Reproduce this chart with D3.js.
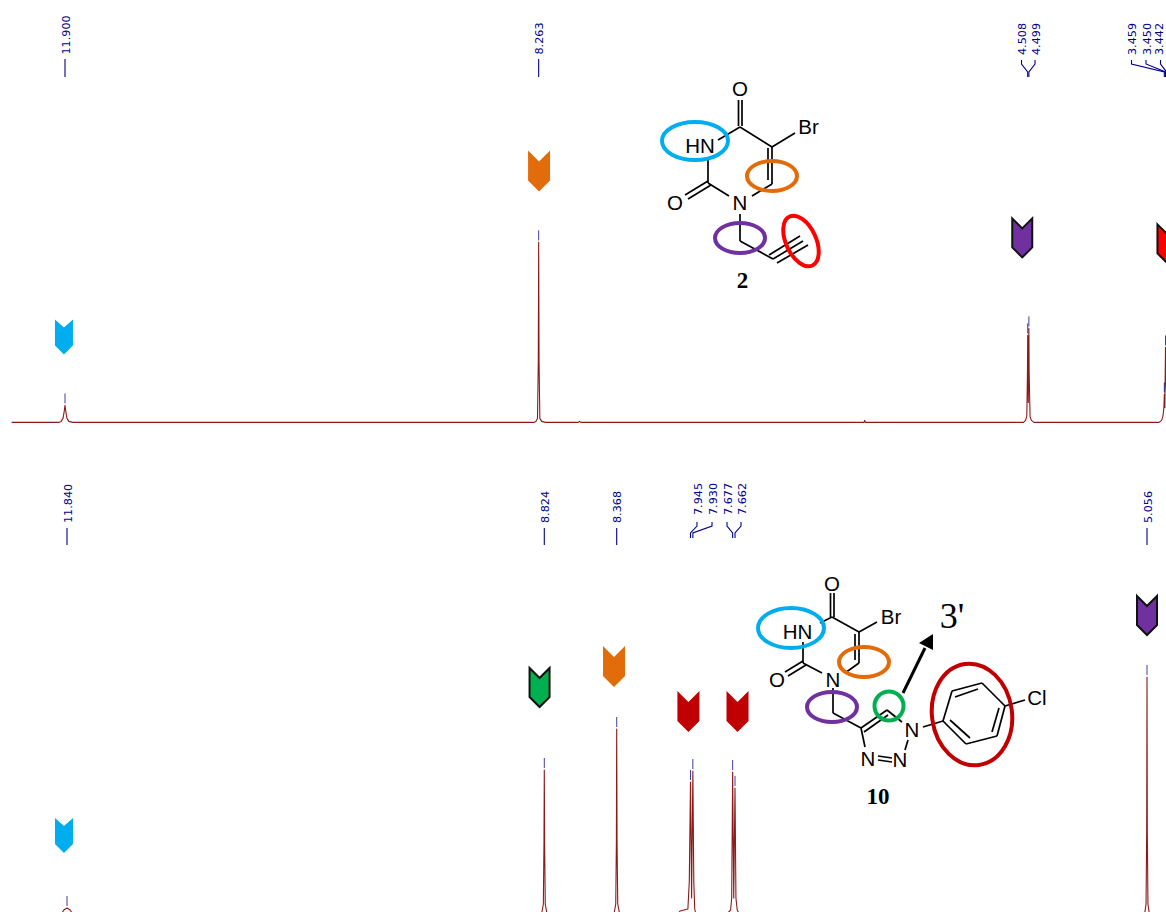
<!DOCTYPE html>
<html>
<head>
<meta charset="utf-8">
<script src="https://cdn.jsdelivr.net/npm/d3@7"></script>
<style>
    html, body { margin: 0; padding: 0; background: #fff; }
    svg { display: block; }
</style>
</head>
<body>
<div id="my_dataviz"></div>
<script>
// peak labels (ppm) of the two spectra
var topLabels = [11.900, 8.263, 4.508, 4.499, 3.459, 3.450, 3.442];
var bottomLabels = [11.840, 8.824, 8.368, 7.945, 7.930, 7.677, 7.662, 5.056];

// spectrum of compound 2
var topPpm = [12.31, 11.95, 11.93, 11.915, 11.905, 11.90, 11.895, 11.885, 11.87, 11.84,
    8.30, 8.285, 8.272, 8.266, 8.263, 8.26, 8.254, 8.24, 8.21,
    7.96, 7.95, 7.94, 5.765, 5.76, 5.755,
    4.54, 4.525, 4.515, 4.510, 4.508, 4.5035, 4.499, 4.497, 4.49, 4.48, 4.46,
    3.50, 3.48, 3.47, 3.462, 3.459, 3.455, 3.450, 3.445, 3.442];
var topIntensity = [0, 0, 1, 4, 12, 17, 12, 4, 1, 0,
    0, 1, 4, 60, 180, 60, 4, 1, 0,
    0, 1, 0, 0, 2, 0,
    0, 2, 6, 50, 87, 20, 94, 50, 6, 2, 0,
    0, 2, 6, 15, 28, 15, 75, 40, 30];

// spectrum of compound 10, its baseline sits just below the page
var bottomPpm = [11.88, 11.86, 11.845, 11.84, 11.835, 11.82, 11.80,
    8.842, 8.83, 8.826, 8.824, 8.822, 8.818, 8.806,
    8.386, 8.374, 8.37, 8.368, 8.366, 8.362, 8.35,
    8.02, 8.005, 7.96, 7.952, 7.945, 7.938, 7.93, 7.924, 7.918, 7.91,
    7.72, 7.69, 7.683, 7.677, 7.67, 7.662, 7.656, 7.648, 7.63,
    5.072, 5.062, 5.058, 5.056, 5.054, 5.05, 5.04];
var bottomIntensity = [0, 5, 6.5, 7, 6.5, 5, 0,
    0, 11, 73, 145, 73, 11, 0,
    0, 11, 73, 186, 73, 11, 0,
    0, 4, 6, 33, 133, 17, 144, 33, 6, 0,
    0, 5, 17, 143, 17, 127, 17, 5, 0,
    0, 11, 83, 238, 83, 11, 0];

// integral markers
var topMarkerPpm = [11.908, 8.26, 4.55, 3.435];
var topMarkerLevel = [103, 272, 205, 199];
var topMarkerProton = ["NH", "C6H", "CH2", "CCH"];
var bottomMarkerPpm = [11.859, 8.854, 8.385, 7.957, 7.646, 5.056];
var bottomMarkerLevel = [97, 248, 269, 224, 224, 320];
var bottomMarkerProton = ["NH", "H3", "C6H", "Ar", "Ar", "CH2"];

var protonColor = {NH: "#00aeef", C6H: "#e36c0a", CH2: "#7030a0", CCH: "#ff0000", H3: "#00b050", Ar: "#c00000"};
var protonOutlined = {CH2: true, CCH: true, H3: true};

var width = 1166, height = 912;

var svg = d3.select("#my_dataviz")
    .append("svg")
    .attr("width", width)
    .attr("height", height)
    .attr("viewBox", "0 0 " + width + " " + height);

var fontLabel = "'DejaVu Sans', sans-serif";
var fontChem = "'Liberation Sans', Arial, sans-serif";
var fontSerif = "'Liberation Serif', 'Times New Roman', serif";
var blue = "#00008b";
var red = "#8b1a1a";

// spectrum scales, the pasted bottom panel is not quite linear in ppm
var xTop = d3.scaleLinear().domain([11.900, 3.450]).range([65, 1165.5]);
var yTop = d3.scaleLinear().domain([0, 180]).range([422.4, 242.4]);
var xBottom = d3.scaleLinear()
    .domain([11.840, 8.824, 8.368, 7.945, 7.662, 5.056])
    .range([67, 544.3, 616.7, 690.5, 735, 1147]);
var yBottom = d3.scaleLinear().domain([0, 240]).range([915, 675]);

// where the label fan ends up, x of each label when it is not above its peak
var topFan = {"4.508": 1021.5, "4.499": 1035, "3.459": 1131.5, "3.45": 1146, "3.442": 1160.5};
var bottomFan = {"7.945": 697, "7.93": 712, "7.677": 727, "7.662": 741};

function drawSpectrum(ppm, intensity, labels, fan, x, y, opt) {
    var g = svg.append("g");
    var line = d3.line()
        .x(function(d) { return x(d); })
        .y(function(d, i) { return y(intensity[i]); });

    g.append("path")
        .attr("d", line(ppm))
        .attr("fill", "none")
        .attr("stroke", red)
        .attr("stroke-width", 1.1)
        .attr("stroke-linejoin", "round");

    labels.forEach(function(v) {
        var px = x(v);
        var top = y(intensity[ppm.indexOf(v)]);
        var lx = fan[String(v)];
        var fanned = lx !== undefined;
        if (!fanned) lx = px;

        // short tick sitting on the peak
        g.append("line")
            .attr("x1", px).attr("x2", px)
            .attr("y1", top - 2).attr("y2", top - 12)
            .attr("stroke", blue).attr("stroke-width", 1).attr("opacity", 0.75);

        // keep the last label inside the page
        var textX = Math.min(lx + 4.6, width - 2.8);
        var textEnd = fanned ? opt.fanTextEnd : opt.textEnd;
        g.append("text")
            .attr("transform", "translate(" + textX + "," + textEnd + ") rotate(-90)")
            .attr("font-family", fontLabel)
            .attr("font-size", 11.2)
            .attr("fill", blue)
            .text(v.toFixed(3));

        var d;
        if (fanned) {
            d = "M" + lx + "," + opt.fanTop +
                "V" + (opt.fanTop + 4) +
                "L" + px + "," + (opt.fanBottom - 5) +
                "V" + opt.fanBottom;
        } else {
            d = "M" + lx + "," + opt.tickTop + "V" + opt.tickBottom;
        }
        g.append("path")
            .attr("d", d)
            .attr("fill", "none")
            .attr("stroke", blue)
            .attr("stroke-width", 1.1);
    });
}

drawSpectrum(topPpm, topIntensity, topLabels, topFan, xTop, yTop,
    {textEnd: 54.5, fanTextEnd: 55, tickTop: 59, tickBottom: 77, fanTop: 60, fanBottom: 77});
drawSpectrum(bottomPpm, bottomIntensity, bottomLabels, bottomFan, xBottom, yBottom,
    {textEnd: 523, fanTextEnd: 515, tickTop: 528, tickBottom: 545, fanTop: 522, fanBottom: 538});

function chevron(cx, top, w, h, notch, tip) {
    var p = d3.path();
    p.moveTo(cx - w / 2, top);
    p.lineTo(cx, top + notch);
    p.lineTo(cx + w / 2, top);
    p.lineTo(cx + w / 2, top + h - tip);
    p.lineTo(cx, top + h);
    p.lineTo(cx - w / 2, top + h - tip);
    p.closePath();
    return p.toString();
}

function drawMarkers(ppm, level, proton, x, y) {
    svg.append("g").selectAll("path")
        .data(ppm)
        .enter()
        .append("path")
        .attr("d", function(d, i) {
            if (proton[i] == "NH") return chevron(x(d), y(level[i]), 18, 35, 8, 9);
            if (protonOutlined[proton[i]]) return chevron(x(d), y(level[i]) + 1, 20, 39, 10, 10);
            return chevron(x(d), y(level[i]), 22, 41, 11, 11);
        })
        .attr("fill", function(d, i) { return protonColor[proton[i]]; })
        .attr("stroke", function(d, i) { return protonOutlined[proton[i]] ? "#111" : "none"; })
        .attr("stroke-width", 2)
        .attr("stroke-linejoin", "miter");
}

drawMarkers(topMarkerPpm, topMarkerLevel, topMarkerProton, xTop, yTop);
drawMarkers(bottomMarkerPpm, bottomMarkerLevel, bottomMarkerProton, xBottom, yBottom);

// structure drawings, plain page coordinates
var bonds2 = [
    [738.5, 100, 738.5, 126], [742, 100, 742, 126], [740, 127, 772, 147], [772, 147, 795, 133],
    [772, 147, 772, 184], [768, 148, 768, 180], [772, 184, 752, 196], [729, 196, 708, 183],
    [708, 183, 708, 157], [718, 140, 740, 127], [708, 181, 685, 195], [711, 185, 688, 199],
    [740, 214, 740, 241], [740, 241, 773, 259], [773, 259, 803, 241], [769, 255, 800, 236], [777, 263, 808, 245]
];
var atoms2 = [["O", 740, 89], ["Br", 808.5, 127], ["HN", 700, 145.5], ["N", 740, 203], ["O", 675, 203]];
var rings2 = [
    {cx: 695, cy: 141, rx: 33, ry: 19, rot: 0, color: protonColor.NH},
    {cx: 772, cy: 176, rx: 25, ry: 15, rot: 0, color: protonColor.C6H},
    {cx: 740, cy: 238, rx: 25, ry: 15, rot: 0, color: protonColor.CH2},
    {cx: 801, cy: 241, rx: 27, ry: 15, rot: 65, color: protonColor.CCH}
];

var bonds10 = [
    [830.5, 593, 830.5, 617], [834, 593, 834, 617], [832, 617, 859, 632], [859, 632, 877, 622],
    [859, 632, 859, 663], [855, 634, 855, 660], [859, 663, 845, 673], [822, 673, 803, 663],
    [803, 663, 803, 642], [820, 623, 832, 617], [803, 661, 785, 672], [806, 665, 788, 676],
    [833, 688, 833, 713], [833, 713, 861, 728],
    [861, 728, 887, 710], [864, 732, 888, 715], [887, 710, 902, 722], [908, 740, 905, 750],
    [878, 756, 892, 758], [878, 760, 892, 762], [865, 747, 861, 728],
    [923, 727, 943, 721], [943, 721, 952, 691], [952, 691, 982, 683], [982, 683, 1005, 706],
    [1005, 706, 997, 736], [997, 736, 966, 744], [966, 744, 943, 721],
    [955, 697, 978, 689], [999, 708, 992, 732], [950, 720, 970, 738], [1005, 706, 1025, 700]
];
var atoms10 = [["O", 832, 584], ["Br", 891, 617], ["HN", 797.5, 631.5], ["N", 833, 680], ["O", 777, 680],
    ["N", 912, 730], ["N", 900, 760], ["N", 868, 759], ["Cl", 1037, 698]];
var rings10 = [
    {cx: 791, cy: 628, rx: 33, ry: 20, rot: 0, color: protonColor.NH},
    {cx: 864, cy: 662, rx: 25, ry: 15, rot: 0, color: protonColor.C6H},
    {cx: 832, cy: 707, rx: 25, ry: 15, rot: 0, color: protonColor.CH2},
    {cx: 889, cy: 706, rx: 14.5, ry: 14.5, rot: 0, color: protonColor.H3},
    {cx: 972, cy: 714.5, rx: 40, ry: 51, rot: -8, color: "#c00000"}
];

function drawStructure(bonds, atoms, rings, name, nameX, nameY) {
    var g = svg.append("g");
    g.selectAll("line")
        .data(bonds)
        .enter()
        .append("line")
        .attr("x1", function(d) { return d[0]; })
        .attr("y1", function(d) { return d[1]; })
        .attr("x2", function(d) { return d[2]; })
        .attr("y2", function(d) { return d[3]; })
        .attr("stroke", "#000")
        .attr("stroke-width", 1.7);
    g.selectAll("text.atom")
        .data(atoms)
        .enter()
        .append("text")
        .attr("class", "atom")
        .attr("x", function(d) { return d[1]; })
        .attr("y", function(d) { return d[2]; })
        .attr("dy", "0.36em")
        .attr("text-anchor", "middle")
        .attr("font-family", fontChem)
        .attr("font-size", 20.5)
        .text(function(d) { return d[0]; });
    g.selectAll("ellipse")
        .data(rings)
        .enter()
        .append("ellipse")
        .attr("transform", function(d) { return "translate(" + d.cx + "," + d.cy + ") rotate(" + d.rot + ")"; })
        .attr("rx", function(d) { return d.rx; })
        .attr("ry", function(d) { return d.ry; })
        .attr("fill", "none")
        .attr("stroke", function(d) { return d.color; })
        .attr("stroke-width", 4);
    g.append("text")
        .attr("x", nameX)
        .attr("y", nameY)
        .attr("text-anchor", "middle")
        .attr("font-family", fontSerif)
        .attr("font-weight", "bold")
        .attr("font-size", 23)
        .text(name);
}

drawStructure(bonds2, atoms2, rings2, "2", 742.5, 288);
drawStructure(bonds10, atoms10, rings10, "10", 878, 804);

// arrow pointing at the 3' proton
svg.append("line")
    .attr("x1", 903).attr("y1", 693)
    .attr("x2", 925).attr("y2", 648)
    .attr("stroke", "#000")
    .attr("stroke-width", 3);
svg.append("path")
    .attr("d", "M933,634L919,643L933,650Z")
    .attr("fill", "#000");
svg.append("text")
    .attr("x", 952)
    .attr("y", 628)
    .attr("text-anchor", "middle")
    .attr("font-family", fontSerif)
    .attr("font-size", 36)
    .text("3'");
</script>
</body>
</html>
